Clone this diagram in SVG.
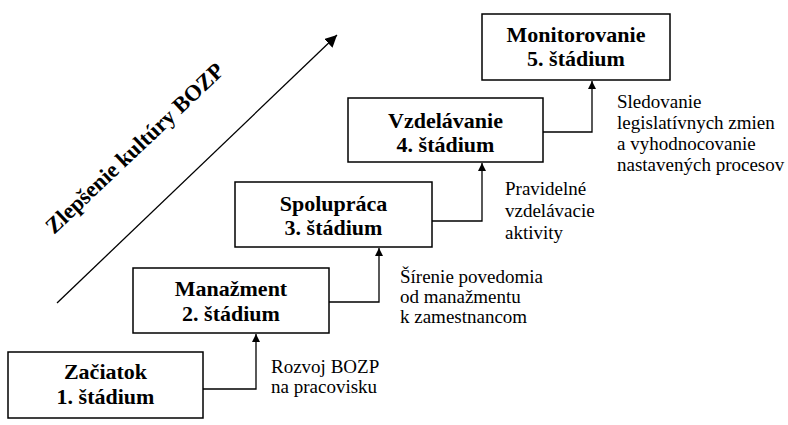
<svg xmlns="http://www.w3.org/2000/svg" width="788" height="425" viewBox="0 0 788 425">
<style>
.box{fill:#fff;stroke:#000;stroke-width:1.5}
.t{font-family:"Liberation Serif",serif;font-weight:bold;font-size:22px;text-anchor:middle;fill:#000}
.l{font-family:"Liberation Serif",serif;font-size:19px;fill:#000}
.c{fill:none;stroke:#000;stroke-width:1.3}
</style>
<defs>
<marker id="ah" viewBox="0 0 10 10" refX="10" refY="5" markerWidth="8" markerHeight="8" markerUnits="userSpaceOnUse" orient="auto">
<path d="M0,0 L10,5 L0,10 Z" fill="#000"/>
</marker>
<marker id="ah2" viewBox="0 0 10 10" refX="10" refY="5" markerWidth="12" markerHeight="12" markerUnits="userSpaceOnUse" orient="auto">
<path d="M0,0 L10,5 L0,10 Z" fill="#000"/>
</marker>
</defs>
<rect width="788" height="425" fill="#fff"/>
<g id="connectors">
<path class="c" d="M203,389 H256 V334" marker-end="url(#ah)"/>
<path class="c" d="M329,302 H379 V248" marker-end="url(#ah)"/>
<path class="c" d="M432,221 H482 V163" marker-end="url(#ah)"/>
<path class="c" d="M543,132 H592 V81" marker-end="url(#ah)"/>
<path class="c" d="M57,303 L337,35" marker-end="url(#ah2)"/>
</g>
<g id="axis-label">
<text class="t" style="text-anchor:start;font-size:22.5px" x="54" y="235" transform="rotate(-43.5 54 235)">Zlepšenie kultúry BOZP</text>
</g>
<g id="stage1">
<rect class="box" x="8" y="352" width="195" height="66"/>
<text class="t" x="105.5" y="379">Začiatok</text>
<text class="t" x="105.5" y="404">1. štádium</text>
</g>
<g id="stage2">
<rect class="box" x="133" y="268" width="196" height="65"/>
<text class="t" x="231" y="296">Manažment</text>
<text class="t" x="231" y="321">2. štádium</text>
</g>
<g id="stage3">
<rect class="box" x="235" y="182" width="197" height="65"/>
<text class="t" x="333.5" y="211">Spolupráca</text>
<text class="t" x="333.5" y="235">3. štádium</text>
</g>
<g id="stage4">
<rect class="box" x="348" y="98" width="195" height="64"/>
<text class="t" x="445.5" y="128">Vzdelávanie</text>
<text class="t" x="445.5" y="152">4. štádium</text>
</g>
<g id="stage5">
<rect class="box" x="482" y="14" width="188" height="66"/>
<text class="t" x="576" y="42">Monitorovanie</text>
<text class="t" x="576" y="66">5. štádium</text>
</g>
<g id="labels">
<text class="l" x="271" y="373">Rozvoj BOZP</text>
<text class="l" x="271" y="393">na pracovisku</text>
<text class="l" x="400" y="283">Šírenie povedomia</text>
<text class="l" x="400" y="303">od manažmentu</text>
<text class="l" x="400" y="323">k zamestnancom</text>
<text class="l" x="505" y="195">Pravidelné</text>
<text class="l" x="505" y="217">vzdelávacie</text>
<text class="l" x="505" y="239">aktivity</text>
<text class="l" x="617" y="108">Sledovanie</text>
<text class="l" x="617" y="129">legislatívnych zmien</text>
<text class="l" x="617" y="150">a vyhodnocovanie</text>
<text class="l" x="617" y="171">nastavených procesov</text>
</g>
</svg>
